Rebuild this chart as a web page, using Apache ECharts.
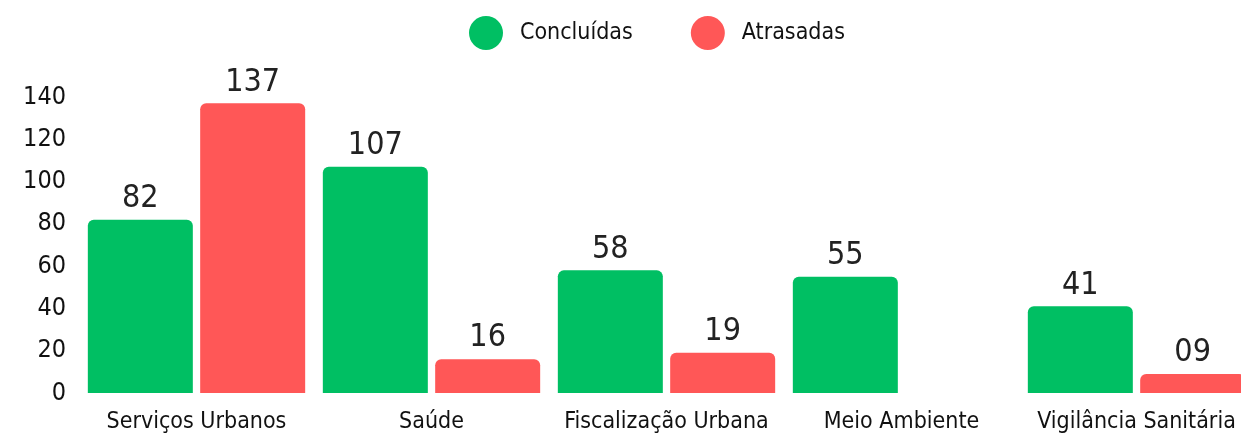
<!DOCTYPE html>
<html lang="pt">
<head>
    <meta charset="UTF-8">
    <title>Demandas</title>
    <script src="https://cdn.jsdelivr.net/npm/echarts@6/dist/echarts.min.js"></script>
    <style>
        * { margin: 0; padding: 0; }
        #main { width: 1241px; height: 440px; }
    </style>
</head>
<body>
    <div id="main"></div>
    <script>
        // dados do grafico
        var categorias = ['Serviços Urbanos', 'Saúde', 'Fiscalização Urbana', 'Meio Ambiente', 'Vigilância Sanitária'];
        var concluidas = [82, 107, 58, 55, 41];
        var atrasadas = [137, 16, 19, 0, 9];
        var yTicks = [0, 20, 40, 60, 80, 100, 120, 140];

        var fonte = "'DejaVu Sans Condensed', 'Liberation Sans Narrow', sans-serif";

        function rotulo(p) {
            if (!p.value) return '';
            return p.value < 10 ? '0' + p.value : String(p.value);
        }

        var myChart = echarts.init(document.getElementById('main'));

        var option = {
            backgroundColor: '#fff',
            textStyle: { fontFamily: fonte },
            legend: {
                top: 11,
                left: 464,
                itemWidth: 34,
                itemHeight: 34,
                itemGap: 58,
                icon: 'circle',
                textStyle: { fontSize: 23, color: '#111', fontFamily: fonte, padding: [0, 0, 0, 12] },
                data: ['Concluídas', 'Atrasadas']
            },
            // a ultima barra sai um pouco para fora da imagem
            grid: { left: 79, width: 1175, top: 97, bottom: 47, outerBoundsMode: 'none', containLabel: false },
            xAxis: {
                type: 'category',
                data: categorias,
                axisLine: { show: false },
                axisTick: { show: false },
                axisLabel: { fontSize: 23, color: '#111', margin: 18, fontFamily: fonte, interval: 0 }
            },
            yAxis: {
                type: 'value',
                min: yTicks[0],
                max: yTicks[yTicks.length - 1],
                interval: 20,
                splitLine: { show: false },
                axisLine: { show: false },
                axisTick: { show: false },
                axisLabel: { fontSize: 25, color: '#111', margin: 13, fontFamily: fonte }
            },
            series: [
                {
                    name: 'Concluídas',
                    type: 'bar',
                    data: concluidas,
                    barWidth: 105,
                    barGap: '7%',
                    itemStyle: { color: '#00bf63', borderRadius: [6, 6, 0, 0] },
                    label: { show: true, position: 'top', distance: 5, fontSize: 32, color: '#222', fontFamily: fonte, formatter: rotulo }
                },
                {
                    name: 'Atrasadas',
                    type: 'bar',
                    data: atrasadas,
                    barWidth: 105,
                    itemStyle: { color: '#ff5757', borderRadius: [6, 6, 0, 0] },
                    label: { show: true, position: 'top', distance: 5, fontSize: 32, color: '#222', fontFamily: fonte, formatter: rotulo }
                }
            ]
        };

        myChart.setOption(option);
    </script>
</body>
</html>
